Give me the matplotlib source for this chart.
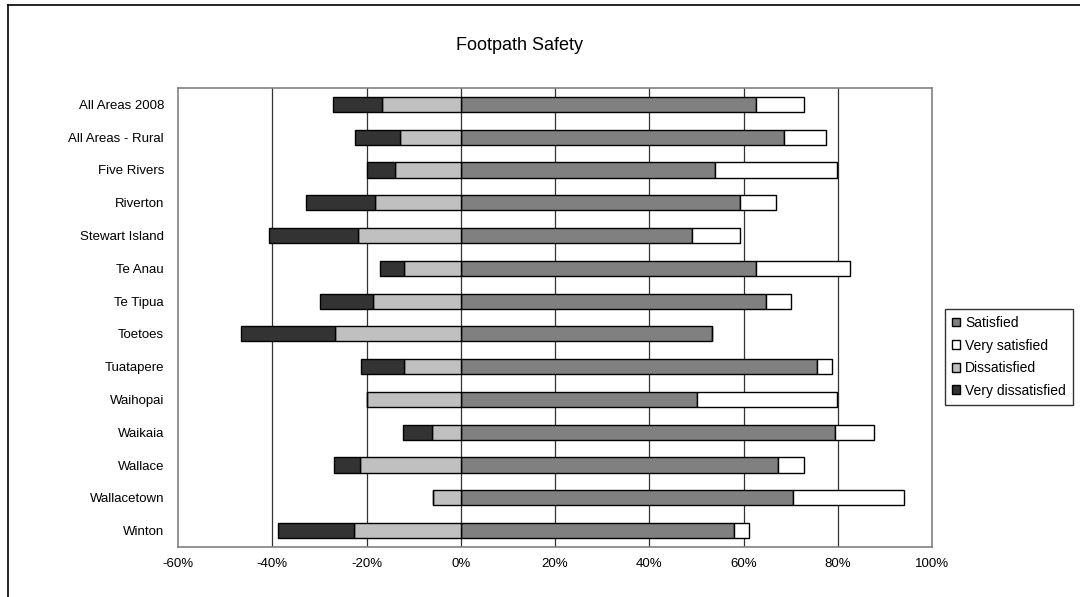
import matplotlib.pyplot as plt
from matplotlib.lines import Line2D
from matplotlib.patches import Patch
from matplotlib.ticker import FuncFormatter

plt.rcParams['font.family'] = ['Liberation Sans', 'DejaVu Sans']

areas = [
    "All Areas 2008", "All Areas - Rural", "Five Rivers", "Riverton",
    "Stewart Island", "Te Anau", "Te Tipua", "Toetoes", "Tuatapere",
    "Waihopai", "Waikaia", "Wallace", "Wallacetown", "Winton",
]
satisfied = [62.6, 68.6, 54.0, 59.2, 49.0, 62.7, 64.7, 53.3, 75.6, 50.1, 79.5, 67.4, 70.6, 58.0]
very_satisfied = [10.3, 9.0, 25.9, 7.8, 10.2, 20.0, 5.4, 0.0, 3.2, 29.8, 8.2, 5.5, 23.5, 3.1]
dissatisfied = [16.8, 12.9, 14.0, 18.3, 21.9, 12.1, 18.7, 26.6, 12.0, 20.0, 6.2, 21.4, 5.9, 22.6]
very_dissatisfied = [10.3, 9.5, 6.0, 14.6, 18.8, 5.1, 11.1, 20.1, 9.1, 0.0, 6.0, 5.6, 0.0, 16.2]

C_SAT = "#808080"
C_VSAT = "#ffffff"
C_DIS = "#c0c0c0"
C_VDIS = "#333333"

fig = plt.figure(figsize=(10.8, 5.97), dpi=100)
ax = fig.add_axes([178 / 1080, 1 - 547 / 597, (932 - 178) / 1080, (547 - 88) / 597])

y = list(range(len(areas)))
h = 0.46
bar_kw = dict(height=h, edgecolor="black", linewidth=1.0, zorder=3)

ax.barh(y, satisfied, color=C_SAT, **bar_kw)
ax.barh(y, very_satisfied, left=satisfied, color=C_VSAT, **bar_kw)
neg_dis = [-d for d in dissatisfied]
ax.barh(y, neg_dis, color=C_DIS, **bar_kw)
ax.barh(y, [-v for v in very_dissatisfied], left=neg_dis, color=C_VDIS, **bar_kw)

ax.set_xlim(-60, 100)
ax.set_ylim(len(areas) - 0.5, -0.5)
ax.set_xticks(range(-60, 101, 20))
ax.xaxis.set_major_formatter(FuncFormatter(lambda v, p: f"{int(v)}%"))
ax.set_yticks(y)
ax.set_yticklabels(areas)
ax.tick_params(axis="both", length=0, labelsize=9.5, colors="black")
ax.tick_params(axis="y", pad=10)
ax.tick_params(axis="x", pad=8)

for xv in range(-40, 100, 20):
    ax.axvline(xv, color="#333333", linewidth=0.9, zorder=1)

for s in ax.spines.values():
    s.set_color("#808080")
    s.set_linewidth(1.2)

fig.text(519 / 1080, 1 - 45 / 597, "Footpath Safety", ha="center", va="center", fontsize=13)

# outer chart border (top and left visible)
fig.add_artist(Line2D([8 / 1080, 1.0], [1 - 5 / 597, 1 - 5 / 597], color="black", linewidth=1.2,
                      transform=fig.transFigure))
fig.add_artist(Line2D([8 / 1080, 8 / 1080], [0.0, 1 - 5 / 597], color="black", linewidth=1.2,
                      transform=fig.transFigure))

handles = [
    Patch(facecolor=C_SAT, edgecolor="black", label="Satisfied"),
    Patch(facecolor=C_VSAT, edgecolor="black", label="Very satisfied"),
    Patch(facecolor=C_DIS, edgecolor="black", label="Dissatisfied"),
    Patch(facecolor=C_VDIS, edgecolor="black", label="Very dissatisfied"),
]
leg = fig.legend(handles=handles, loc="upper left", bbox_to_anchor=(945 / 1080, 1 - 309 / 597),
                 fontsize=10, frameon=True, fancybox=False, handlelength=0.6, handleheight=0.6,
                 handletextpad=0.35, labelspacing=0.62, borderpad=0.5, borderaxespad=0)
leg.get_frame().set_edgecolor("black")
leg.get_frame().set_linewidth(1.0)

fig.savefig("out.png", dpi=100)
